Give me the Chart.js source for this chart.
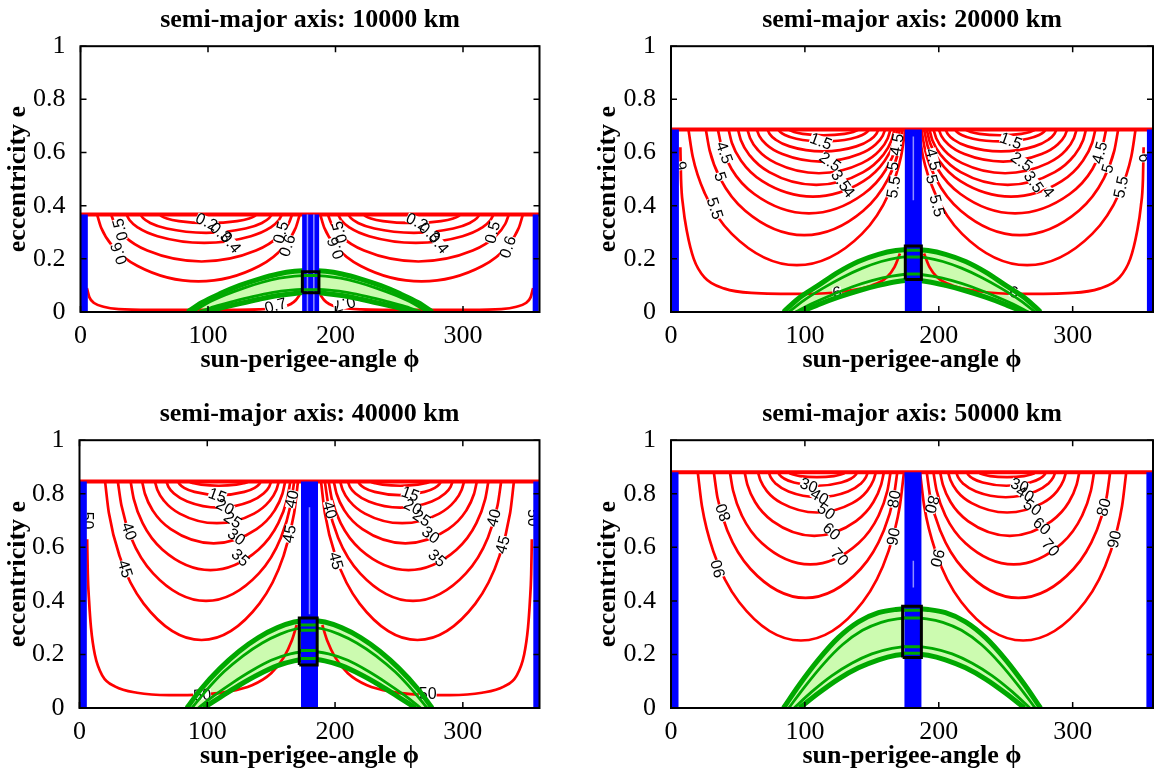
<!DOCTYPE html>
<html><head><meta charset="utf-8">
<script src="https://cdn.jsdelivr.net/npm/chart.js@4.4.1/dist/chart.umd.min.js"></script>
<style>
html,body{margin:0;padding:0;background:#fff;overflow:hidden;width:1154px;height:773px;}
canvas{position:absolute;}
</style></head><body>
<canvas id="c1" width="620" height="388" style="left:0px;top:0px;width:620px;height:388px"></canvas>
<canvas id="c2" width="644" height="388" style="left:590px;top:0px;width:644px;height:388px"></canvas>
<canvas id="c3" width="619" height="390" style="left:0px;top:394px;width:619px;height:390px"></canvas>
<canvas id="c4" width="644" height="390" style="left:590px;top:394px;width:644px;height:390px"></canvas>
<script>
// ---------------- shared axis data ----------------
const X_TICKS = [0, 100, 200, 300];
const Y_TICKS = [0, 0.2, 0.4, 0.6, 0.8, 1];
const Y_TICK_LABELS = ['0', '0.2', '0.4', '0.6', '0.8', '1'];
const TITLES = ['semi-major axis: 10000 km', 'semi-major axis: 20000 km', 'semi-major axis: 40000 km', 'semi-major axis: 50000 km'];
const Y_TITLE = 'eccentricity e';
const X_TITLE = 'sun-perigee-angle \u03D5';

// ---------------- panel 1: 10000 km ----------------
const TL_T = 0.367;
const TL_RED = [
 [[62,.367],[63.5,.361],[67.7,.352],[77.2,.342],[100,.335],[122.8,.342],[132.3,.352],[136.5,.361],[138,.367]],
 [[222,.367],[223.5,.361],[227.7,.352],[237.2,.342],[260,.335],[282.8,.342],[292.3,.352],[296.5,.361],[298,.367]],
 [[47,.367],[49.1,.353],[54.7,.335],[67.6,.314],[98.5,.298],[129.4,.314],[142.3,.335],[147.9,.353],[150,.367]],
 [[210,.367],[212.1,.353],[217.7,.335],[230.6,.314],[261.5,.298],[292.4,.314],[305.3,.335],[310.9,.353],[313,.367]],
 [[36,.367],[38.4,.346],[45.2,.317],[60.4,.285],[97,.26],[133.6,.285],[148.8,.317],[155.6,.346],[158,.367]],
 [[202,.367],[204.4,.346],[211.2,.317],[226.4,.285],[263,.26],[299.6,.285],[314.8,.317],[321.6,.346],[324,.367]],
 [[24,.367],[26.8,.332],[34.7,.284],[52.4,.231],[95,.19],[137.6,.231],[155.3,.284],[163.2,.332],[166,.367]],
 [[194,.367],[196.8,.332],[204.7,.284],[222.4,.231],[265,.19],[307.6,.231],[325.3,.284],[333.2,.332],[336,.367]],
 [[13,.367],[16.2,.317],[24.9,.249],[44.8,.173],[92.5,.115],[140.2,.173],[160.1,.249],[168.8,.317],[172,.367]],
 [[188,.367],[191.2,.317],[199.9,.249],[219.8,.173],[267.5,.115],[315.2,.173],[335.1,.249],[343.8,.317],[347,.367]],
 [[5,.09],[7,.055],[11,.033],[18,.02],[30,.011],[55,.008],[100,.008],[140,.01],[158,.018],[165,.03],[169,.045],[172,.065]],
 [[188,.065],[191,.045],[195,.03],[202,.018],[220,.01],[260,.008],[305,.008],[330,.011],[342,.02],[349,.033],[353,.055],[355,.09]]
];
const TL_GREEN = [
 [[84,0],[95,.035],[110,.07],[125,.1],[140,.124],[155,.143],[168,.153],[180,.156],[192,.153],[205,.143],[220,.124],[235,.1],[250,.07],[265,.035],[276,0]],
 [[88,0],[99,.032],[113,.063],[128,.09],[142,.111],[156,.127],[168,.135],[180,.138],[192,.135],[204,.127],[218,.111],[232,.09],[247,.063],[261,.032],[272,0]],
 [[93,0],[105,.02],[120,.04],[135,.058],[150,.073],[165,.082],[180,.086],[195,.082],[210,.073],[225,.058],[240,.04],[255,.02],[267,0]],
 [[97,0],[110,.015],[125,.032],[140,.048],[155,.062],[168,.07],[180,.074],[192,.07],[205,.062],[220,.048],[235,.032],[250,.015],[263,0]]
];
const TL_BLUE_X = [3, 180.5, 357];
const TL_STRIPES = [[178, 0, .367], [183, 0, .367]];
const TL_BOX = [174, 187, .072, .151];
const TL_BOX_TICKS = [.137, .084];
const TL_LABELS = [
 ['0.2',99,.34,25],['0.3',110,.3,40],['0.4',118,.262,50],
 ['0.5',31,.31,-105],['0.6',30,.22,-110],['0.5',157,.3,-75],['0.6',162,.25,-72],['0.7',153,.025,-15],
 ['0.2',264,.34,25],['0.3',274,.3,40],['0.4',281,.26,50],
 ['0.5',323,.3,-75],['0.6',335,.245,-72],['0.6',200,.24,-110],['0.5',203,.3,-105],['0.7',207,.03,165]
];

// ---------------- panel 2: 20000 km ----------------
const TR_T = 0.687;
const TR_RED = [
 [[88,.687],[89,.683],[91.9,.677],[98.4,.67],[114,.665],[129.6,.67],[136.1,.677],[139,.683],[140,.687]],
 [[220,.687],[221,.683],[223.9,.677],[230.4,.67],[246,.665],[261.6,.67],[268.1,.677],[271,.683],[272,.687]],
 [[80,.687],[81.4,.678],[85.1,.666],[93.6,.652],[114,.642],[134.4,.652],[142.9,.666],[146.6,.678],[148,.687]],
 [[212,.687],[213.4,.678],[217.1,.666],[225.6,.652],[246,.642],[266.4,.652],[274.9,.666],[278.6,.678],[280,.687]],
 [[72,.687],[73.7,.67],[78.2,.648],[88.6,.623],[113.5,.604],[138.4,.623],[148.8,.648],[153.3,.67],[155,.687]],
 [[205,.687],[206.7,.67],[211.2,.648],[221.6,.623],[246.5,.604],[271.4,.623],[281.8,.648],[286.3,.67],[288,.687]],
 [[64,.687],[65.9,.663],[71.2,.63],[83.2,.594],[112,.566],[140.8,.594],[152.8,.63],[158.1,.663],[160,.687]],
 [[200,.687],[201.9,.663],[207.2,.63],[219.2,.594],[248,.566],[276.8,.594],[288.8,.63],[294.1,.663],[296,.687]],
 [[57,.687],[59.1,.654],[65,.609],[78.4,.56],[110.5,.522],[142.6,.56],[156,.609],[161.9,.654],[164,.687]],
 [[196,.687],[198.1,.654],[204,.609],[217.4,.56],[249.5,.522],[281.6,.56],[295,.609],[300.9,.654],[303,.687]],
 [[50,.687],[52.3,.645],[58.8,.589],[73.4,.526],[108.5,.478],[143.6,.526],[158.2,.589],[164.7,.645],[167,.687]],
 [[193,.687],[195.3,.645],[201.8,.589],[216.4,.526],[251.5,.478],[286.6,.526],[301.2,.589],[307.7,.645],[310,.687]],
 [[43,.687],[45.5,.636],[52.5,.568],[68.2,.492],[106,.434],[143.8,.492],[159.5,.568],[166.5,.636],[169,.687]],
 [[191,.687],[193.5,.636],[200.5,.568],[216.2,.492],[254,.434],[291.8,.492],[307.5,.568],[314.5,.636],[317,.687]],
 [[35,.687],[37.7,.624],[45.2,.538],[62.2,.444],[103,.371],[143.8,.444],[160.8,.538],[168.3,.624],[171,.687]],
 [[189,.687],[191.7,.624],[199.2,.538],[216.2,.444],[257,.371],[297.8,.444],[314.8,.538],[322.3,.624],[325,.687]],
 [[26,.687],[28.9,.607],[37,.5],[55.4,.381],[99.5,.289],[143.6,.381],[162,.5],[170.1,.607],[173,.687]],
 [[187,.687],[189.9,.607],[198,.5],[216.4,.381],[260.5,.289],[304.6,.381],[323,.5],[331.1,.607],[334,.687]],
 [[13,.687],[16.2,.585],[25.2,.447],[45.4,.294],[94,.176],[142.6,.294],[162.8,.447],[171.8,.585],[175,.687]],
 [[185,.687],[188.2,.585],[197.2,.447],[217.4,.294],[266,.176],[314.6,.294],[334.8,.447],[343.8,.585],[347,.687]],
 [[7,.62],[7.5,.5],[9,.4],[12,.3],[17,.2],[25,.13],[40,.088],[60,.072],[100,.068],[130,.078],[150,.1],[161,.13],[167,.17],[171,.22]],
 [[189,.22],[193,.17],[199,.13],[210,.1],[230,.078],[260,.068],[300,.072],[320,.088],[335,.13],[343,.2],[348,.3],[351,.4],[352.5,.5],[353,.62]]
];
const TR_GREEN = [
 [[84,0],[95,.05],[110,.1],[125,.15],[140,.19],[155,.217],[168,.231],[180,.235],[192,.231],[205,.217],[220,.19],[235,.15],[250,.1],[265,.05],[276,0]],
 [[88,0],[99,.043],[113,.088],[128,.13],[143,.165],[157,.19],[169,.204],[180,.208],[191,.204],[203,.19],[217,.165],[232,.13],[247,.088],[261,.043],[272,0]],
 [[93,0],[105,.031],[120,.064],[135,.094],[150,.118],[165,.135],[180,.143],[195,.135],[210,.118],[225,.094],[240,.064],[255,.031],[267,0]],
 [[97,0],[110,.028],[125,.056],[140,.08],[155,.1],[168,.114],[180,.12],[192,.114],[205,.1],[220,.08],[235,.056],[250,.028],[263,0]]
];
const TR_BLUE_X = [3.3, 181, 357.7];
const TR_STRIPES = [[181, .42, .66]];
const TR_BOX = [175, 187, .122, .248];
const TR_BOX_TICKS = [.232, .207, .143];
const TR_LABELS = [
 ['1.5',112,.643,20],['2.5',119,.566,35],['3.5',127,.495,55],['4',133,.452,50],
 ['4.5',40,.6,70],['5',37,.51,72],['5.5',33,.39,72],['6',7.5,.55,-100],
 ['4.5',168.5,.63,-80],['5',165.5,.55,-80],['5.5',166,.47,-80],
 ['4.5',196,.575,75],['5',195,.5,75],['5.5',199,.4,75],
 ['1.5',254,.645,20],['2.5',262,.566,35],['3.5',271,.49,55],['4',282,.452,50],
 ['4.5',320,.6,-75],['5',326,.54,-75],['5.5',336,.47,-78],['6',353.5,.58,90],
 ['6',124,.075,-10],['6',256,.075,10]
];

// ---------------- panel 3: 40000 km ----------------
const BL_T = 0.846;
const BL_RED = [
 [[86,.846],[86.9,.843],[89.5,.839],[95.2,.834],[109,.83],[122.8,.834],[128.5,.839],[131.1,.843],[132,.846]],
 [[228,.846],[228.9,.843],[231.5,.839],[237.2,.834],[251,.83],[264.8,.834],[270.5,.839],[273.1,.843],[274,.846]],
 [[77,.846],[78.3,.836],[81.9,.822],[90,.807],[109.5,.795],[129,.807],[137.1,.822],[140.7,.836],[142,.846]],
 [[218,.846],[219.3,.836],[222.9,.822],[231,.807],[250.5,.795],[270,.807],[278.1,.822],[281.7,.836],[283,.846]],
 [[68,.846],[69.6,.826],[74.2,.8],[84.4,.771],[109,.748],[133.6,.771],[143.8,.8],[148.4,.826],[150,.846]],
 [[210,.846],[211.6,.826],[216.2,.8],[226.4,.771],[251,.748],[275.6,.771],[285.8,.8],[290.4,.826],[292,.846]],
 [[59,.846],[60.9,.815],[66.3,.773],[78.4,.726],[107.5,.69],[136.6,.726],[148.7,.773],[154.1,.815],[156,.846]],
 [[204,.846],[205.9,.815],[211.3,.773],[223.4,.726],[252.5,.69],[281.6,.726],[293.7,.773],[299.1,.815],[301,.846]],
 [[49,.846],[51.2,.8],[57.4,.737],[71.4,.668],[105,.615],[138.6,.668],[152.6,.737],[158.8,.8],[161,.846]],
 [[199,.846],[201.2,.8],[207.4,.737],[221.4,.668],[255,.615],[288.6,.668],[302.6,.737],[308.8,.8],[311,.846]],
 [[40,.846],[42.5,.78],[49.4,.69],[65,.591],[102.5,.515],[140,.591],[155.6,.69],[162.5,.78],[165,.846]],
 [[195,.846],[197.5,.78],[204.4,.69],[220,.591],[257.5,.515],[295,.591],[310.6,.69],[317.5,.78],[320,.846]],
 [[30,.846],[32.8,.757],[40.4,.636],[57.6,.503],[99,.4],[140.4,.503],[157.6,.636],[165.2,.757],[168,.846]],
 [[192,.846],[194.8,.757],[202.4,.636],[219.6,.503],[261,.4],[302.4,.503],[319.6,.636],[327.2,.757],[330,.846]],
 [[20,.846],[23,.728],[31.3,.568],[50.2,.39],[95.5,.254],[140.8,.39],[159.7,.568],[168,.728],[171,.846]],
 [[189,.846],[192,.728],[200.3,.568],[219.2,.39],[264.5,.254],[309.8,.39],[328.7,.568],[337,.728],[340,.846]],
 [[6,.63],[6.5,.5],[7.5,.4],[9,.3],[12,.2],[18,.12],[28,.08],[45,.057],[70,.048],[95,.05],[115,.06],[135,.085],[150,.13],[160,.19],[166,.25],[170,.31]],
 [[190,.31],[194,.25],[200,.19],[210,.13],[225,.085],[245,.06],[265,.05],[290,.048],[315,.057],[332,.08],[342,.12],[348,.2],[351,.3],[352.5,.4],[353.5,.5],[354,.63]]
];
const BL_GREEN = [
 [[84,0],[95,.07],[110,.148],[125,.212],[140,.263],[155,.3],[168,.321],[180,.328],[192,.321],[205,.3],[220,.263],[235,.212],[250,.148],[265,.07],[276,0]],
 [[88,0],[99,.064],[113,.135],[128,.195],[143,.243],[157,.276],[169,.295],[180,.301],[191,.295],[203,.276],[217,.243],[232,.195],[247,.135],[261,.064],[272,0]],
 [[93,0],[105,.045],[120,.095],[135,.14],[150,.178],[165,.202],[180,.212],[195,.202],[210,.178],[225,.14],[240,.095],[255,.045],[267,0]],
 [[97,0],[110,.04],[125,.085],[140,.125],[155,.158],[168,.176],[180,.183],[192,.176],[205,.158],[220,.125],[235,.085],[250,.04],[263,0]]
];
const BL_BLUE_X = [3, 180, 357.5];
const BL_STRIPES = [[180, .35, .75]];
const BL_BOX = [172, 186, .161, .336];
const BL_BOX_TICKS = [.31, .29, .215, .185];
const BL_LABELS = [
 ['15',108,.795,20],['20',114,.752,28],['25',120,.703,33],['30',123,.64,38],['35',126,.562,42],
 ['40',39,.66,70],['45',36,.52,72],['40',166,.78,-78],['45',164,.65,-80],['50',6.5,.7,90],['50',96,.05,-5],
 ['15',259,.8,20],['20',261,.752,28],['25',268,.71,33],['30',275,.647,38],['35',280,.56,42],
 ['40',324,.71,-75],['45',331,.61,-75],['40',196,.74,75],['45',201,.55,75],['50',355.5,.71,90],['50',272.5,.055,0]
];

// ---------------- panel 4: 50000 km ----------------
const BR_T = 0.88;
const BR_RED = [
 [[88,.88],[88.8,.876],[91.2,.872],[96.4,.866],[109,.862],[121.6,.866],[126.8,.872],[129.2,.876],[130,.88]],
 [[230,.88],[230.8,.876],[233.2,.872],[238.4,.866],[251,.862],[263.6,.866],[268.8,.872],[271.2,.876],[272,.88]],
 [[80,.88],[81.2,.87],[84.4,.857],[91.8,.842],[109.5,.83],[127.2,.842],[134.6,.857],[137.8,.87],[139,.88]],
 [[221,.88],[222.2,.87],[225.4,.857],[232.8,.842],[250.5,.83],[268.2,.842],[275.6,.857],[278.8,.87],[280,.88]],
 [[73,.88],[74.5,.861],[78.6,.836],[87.8,.808],[110,.787],[132.2,.808],[141.4,.836],[145.5,.861],[147,.88]],
 [[213,.88],[214.5,.861],[218.6,.836],[227.8,.808],[250,.787],[272.2,.808],[281.4,.836],[285.5,.861],[287,.88]],
 [[65,.88],[66.8,.85],[71.6,.81],[82.6,.765],[109,.73],[135.4,.765],[146.4,.81],[151.2,.85],[153,.88]],
 [[207,.88],[208.8,.85],[213.6,.81],[224.6,.765],[251,.73],[277.4,.765],[288.4,.81],[293.2,.85],[295,.88]],
 [[55,.88],[57.1,.833],[62.8,.769],[75.8,.698],[107,.643],[138.2,.698],[151.2,.769],[156.9,.833],[159,.88]],
 [[201,.88],[203.1,.833],[208.8,.769],[221.8,.698],[253,.643],[284.2,.698],[297.2,.769],[302.9,.833],[305,.88]],
 [[44,.88],[46.4,.811],[53,.718],[68,.615],[104,.536],[140,.615],[155,.718],[161.6,.811],[164,.88]],
 [[196,.88],[198.4,.811],[205,.718],[220,.615],[256,.536],[292,.615],[307,.718],[313.6,.811],[316,.88]],
 [[32,.88],[34.7,.786],[42.3,.66],[59.4,.519],[100.5,.411],[141.6,.519],[158.7,.66],[166.3,.786],[169,.88]],
 [[191,.88],[193.7,.786],[201.3,.66],[218.4,.519],[259.5,.411],[300.6,.519],[317.7,.66],[325.3,.786],[328,.88]],
 [[20,.88],[23.1,.754],[31.6,.585],[50.8,.396],[97,.252],[143.2,.396],[162.4,.585],[170.9,.754],[174,.88]],
 [[186,.88],[189.1,.754],[197.6,.585],[216.8,.396],[263,.252],[309.2,.396],[328.4,.585],[336.9,.754],[340,.88]]
];
const BR_GREEN = [
 [[84,0],[96,.088],[110,.18],[125,.263],[140,.322],[155,.356],[168,.368],[180,.372],[192,.368],[205,.356],[220,.322],[235,.263],[250,.18],[264,.088],[276,0]],
 [[88,0],[100,.08],[114,.165],[128,.236],[143,.29],[157,.32],[169,.333],[180,.337],[191,.333],[203,.32],[217,.29],[232,.236],[246,.165],[260,.08],[272,0]],
 [[92,0],[105,.06],[120,.12],[135,.167],[150,.202],[165,.223],[180,.23],[195,.223],[210,.202],[225,.167],[240,.12],[255,.06],[268,0]],
 [[96,0],[110,.055],[125,.108],[140,.15],[155,.18],[168,.197],[180,.203],[192,.197],[205,.18],[220,.15],[235,.108],[250,.055],[264,0]]
];
const BR_BLUE_X = [3, 180.7, 357.3];
const BR_STRIPES = [[181, .45, .55]];
const BR_BOX = [173, 187, .189, .38];
const BR_BOX_TICKS = [.365, .336, .229, .204];
const BR_LABELS = [
 ['30',103,.832,20],['40',111,.79,30],['50',116,.735,35],['60',120,.66,42],['70',126,.565,48],
 ['80',39,.73,-110],['90',35,.52,-105],['80',166.5,.78,-80],['90',166,.64,-80],
 ['30',260.5,.832,20],['40',264.6,.8,30],['50',270,.75,35],['60',277,.68,42],['70',283.6,.6,48],
 ['80',323,.75,-75],['90',331,.63,-78],['80',195,.76,105],['90',199,.56,105]
];

// ---------------- rendering ----------------
const SERIF = '"Liberation Serif", "Times New Roman", serif';
const SANS = '"Liberation Sans", Arial, sans-serif';
const RED = '#ff0000', GREEN = '#00a800', BLUE = '#0000ff', FILL = '#ccfbb0';
const pts = a => a.map(p => ({x: p[0], y: p[1]}));

const framePlugin = {
  id: 'frame',
  afterDraw(chart) {
    const {ctx, chartArea: a, scales: {x, y}} = chart;
    ctx.save();
    ctx.strokeStyle = '#000';
    ctx.lineWidth = 1.5;
    ctx.beginPath();
    const L = 6;
    X_TICKS.forEach(v => { const p = x.getPixelForValue(v);
      ctx.moveTo(p, a.bottom); ctx.lineTo(p, a.bottom - L); ctx.moveTo(p, a.top); ctx.lineTo(p, a.top + L); });
    Y_TICKS.forEach(v => { const p = y.getPixelForValue(v);
      ctx.moveTo(a.left, p); ctx.lineTo(a.left + L, p); ctx.moveTo(a.right, p); ctx.lineTo(a.right - L, p); });
    ctx.stroke();
    ctx.lineWidth = 2;
    ctx.strokeRect(a.left, a.top, a.right - a.left, a.bottom - a.top);
    ctx.restore();
  }
};

const labelPlugin = {
  id: 'clabels',
  afterDatasetDraw(chart, args, opts) {
    const ds = chart.data.datasets[args.index];
    if (!ds.labelsAfter) return;
    const {ctx, chartArea: a, scales: {x, y}} = chart;
    const items = opts.items || [];
    ctx.save();
    ctx.beginPath(); ctx.rect(a.left, a.top, a.right - a.left, a.bottom - a.top); ctx.clip();
    ctx.font = '16px ' + SANS;
    ctx.textAlign = 'center'; ctx.textBaseline = 'middle';
    const place = (t, vx, vy, ang, fn) => {
      ctx.save(); ctx.translate(x.getPixelForValue(vx), y.getPixelForValue(vy)); ctx.rotate(ang * Math.PI / 180);
      fn(ctx.measureText(t).width); ctx.restore();
    };
    ctx.fillStyle = '#fff';
    items.forEach(([t, vx, vy, ang]) => place(t, vx, vy, ang, w => ctx.fillRect(-w / 2, -5, w, 10)));
    ctx.fillStyle = '#000';
    items.forEach(([t, vx, vy, ang]) => place(t, vx, vy, ang, () => ctx.fillText(t, 0, 1)));
    ctx.restore();
  }
};

function line(data, color, width, extra) {
  return Object.assign({data: pts(data), showLine: true, borderColor: color, borderWidth: width,
    pointRadius: 0, fill: false, tension: 0}, extra || {});
}

function build(id, title, T, red, green, blueX, stripes, box, boxTicks, labels, wl, wr) {
  const ds = [];
  // top layer first (Chart.js draws index 0 last)
  ds.push(line([[box[0], box[2]], [box[1], box[2]], [box[1], box[3]], [box[0], box[3]], [box[0], box[2]]], '#000', 3));
  boxTicks.forEach(e => ds.push(line([[box[0], e], [box[1], e]], GREEN, 3)));
  stripes.forEach(s => ds.push(line([[s[0], s[1]], [s[0], s[2]]], '#8f8fff', 1.5)));
  const bw = [7, 17, 6];
  blueX.forEach((bx, i) => ds.push(line([[bx, 0], [bx, T]], BLUE, bw[i])));
  const gw = [5, 2.8, 2.8, 5];
  green.forEach((g, i) => ds.push(line(g, GREEN, gw[i], {cubicInterpolationMode: 'monotone'})));
  ds.push(line([[0, T], [360, T]], RED, 4, {labelsAfter: true}));
  red.forEach(r => ds.push(line(r, RED, 2.7, {cubicInterpolationMode: 'monotone'})));
  const poly = green[0].concat(green[green.length - 1].slice().reverse());
  ds.push(line(poly, 'rgba(0,0,0,0)', 0, {fill: 'shape', backgroundColor: FILL, tension: 0.3}));

  new Chart(document.getElementById(id), {
    type: 'scatter',
    data: {datasets: ds},
    plugins: [framePlugin, labelPlugin],
    options: {
      responsive: false, animation: false, devicePixelRatio: 1, events: [],
      layout: {padding: 0},
      plugins: {
        legend: {display: false}, tooltip: {enabled: false},
        title: {display: true, text: title, color: '#000', font: {family: SERIF, size: 26, weight: 'bold'}, padding: {top: 5, bottom: 10}},
        clabels: {items: labels}
      },
      scales: {
        x: {type: 'linear', position: 'bottom', min: 0, max: 360,
          afterBuildTicks: s => { s.ticks = X_TICKS.map(v => ({value: v})); },
          afterFit: s => { s.height = 76; },
          grid: {display: false}, border: {display: false},
          ticks: {color: '#000', font: {family: SERIF, size: 26}, padding: 1, maxRotation: 0, autoSkip: false, callback: v => String(v)},
          title: {display: true, text: X_TITLE, color: '#000', font: {family: SERIF, size: 26, weight: 'bold'}, padding: {top: 0, bottom: 12}}
        },
        y: {type: 'linear', position: 'left', min: 0, max: 1,
          afterBuildTicks: s => { s.ticks = Y_TICKS.map(v => ({value: v})); },
          afterFit: s => { s.width = wl; },
          grid: {display: false}, border: {display: false},
          ticks: {color: '#000', font: {family: SERIF, size: 26}, padding: 7, autoSkip: false,
            callback: v => Y_TICK_LABELS[Y_TICKS.indexOf(v)]},
          title: {display: true, text: Y_TITLE, color: '#000', font: {family: SERIF, size: 26, weight: 'bold'}, padding: {top: 3, bottom: 0}}
        },
        y2: {type: 'linear', position: 'right', min: 0, max: 1, display: true,
          grid: {display: false}, border: {display: false}, ticks: {display: false},
          afterFit: s => { s.width = wr; }
        }
      }
    }
  });
}

build('c1', TITLES[0], TL_T, TL_RED, TL_GREEN, TL_BLUE_X, TL_STRIPES, TL_BOX, TL_BOX_TICKS, TL_LABELS, 80.5, 80.5);
build('c2', TITLES[1], TR_T, TR_RED, TR_GREEN, TR_BLUE_X, TR_STRIPES, TR_BOX, TR_BOX_TICKS, TR_LABELS, 81, 81);
build('c3', TITLES[2], BL_T, BL_RED, BL_GREEN, BL_BLUE_X, BL_STRIPES, BL_BOX, BL_BOX_TICKS, BL_LABELS, 79.5, 79.5);
build('c4', TITLES[3], BR_T, BR_RED, BR_GREEN, BR_BLUE_X, BR_STRIPES, BR_BOX, BR_BOX_TICKS, BR_LABELS, 81, 81);
</script>
</body></html>
